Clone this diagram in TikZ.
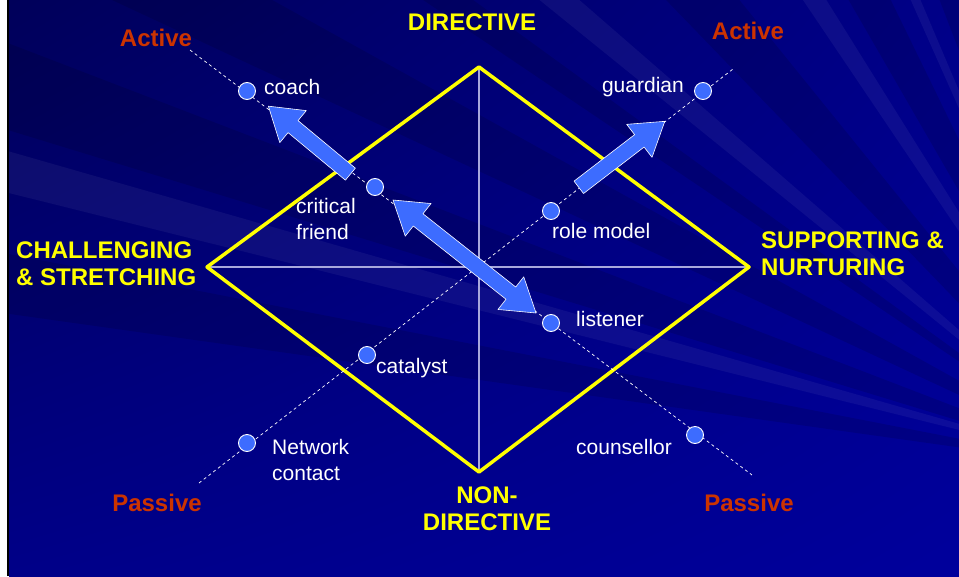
\documentclass[tikz,border=0pt]{standalone}
\usepackage{fontspec}
\setmainfont{Liberation Sans}
\usetikzlibrary{calc,shapes.arrows,shadings}

\definecolor{bgdark}{HTML}{00005A}
\definecolor{bgmid}{HTML}{000088}
\definecolor{bgblue}{HTML}{00009C}
\definecolor{axisyellow}{HTML}{FFFF00}
\definecolor{polered}{HTML}{CC3300}
\definecolor{roleblue}{HTML}{3D6CFF}
\definecolor{splitline}{HTML}{A8A8DC}

\tikzset{
  roledot/.style={circle, fill=roleblue, draw=white, line width=0.9pt, minimum size=17pt, inner sep=0pt},
  rolelabel/.style={text=white, font=\fontsize{21}{26}\selectfont, align=left, inner sep=0pt},
  axislabel/.style={text=axisyellow, font=\fontsize{24}{27}\selectfont\bfseries, inner sep=0pt},
  polelabel/.style={text=polered, font=\fontsize{24}{27}\selectfont\bfseries, inner sep=0pt},
  trail/.style={white, line width=0.7pt, dash pattern=on 3pt off 3pt},
  push/.style={single arrow, fill=roleblue, draw=white, line width=0.6pt, inner sep=7.5pt,
    single arrow head extend=13pt, single arrow tip angle=66},
  pushpull/.style={double arrow, fill=roleblue, draw=white, line width=0.6pt, inner sep=7.5pt,
    double arrow head extend=13pt, double arrow tip angle=66},
}

% block arrow node laid between two named points
\newcommand\arrowbetween[4]{%
  \path let \p1=($(#4)-(#3)$), \n1={atan2(\y1,\x1)}, \n2={veclen(\x1,\y1)} in
    node[#2, rotate=\n1, minimum height=\n2] (#1) at ($(#3)!0.5!(#4)$) {};}

\begin{document}
\begin{tikzpicture}[x=1pt,y=-1pt,line join=round]
\useasboundingbox (0,0) rectangle (959,576);

% backdrop
\fill[white] (0,0) rectangle (959,576);
\fill[black] (7,0) rectangle (9,576);
\begin{scope}
\clip (9,0) rectangle (959,576);
\shade[upper left=bgdark, upper right=bgmid, lower left=bgmid, lower right=bgblue] (9,0) rectangle (959,576);
\foreach \a/\b in {188/191,197/201,205/209,214/216,226/231,240/244,249/252}
  {\fill[black, opacity=0.12] (1120,470) -- +(\a:1600) -- +(\b:1600) -- cycle;}
\foreach \a/\b in {194/196,219/221,236/238,246/247}
  {\fill[white, opacity=0.05] (1120,470) -- +(\a:1600) -- +(\b:1600) -- cycle;}
\end{scope}

% diamond and its quarters
\coordinate (dirN) at (479,67);
\coordinate (supE) at (749,267);
\coordinate (nondirS) at (479,472);
\coordinate (chalW) at (207,267);
\draw[splitline, line width=1.2pt] (dirN) -- (nondirS) (chalW) -- (supE);
\draw[axisyellow, line width=3.5pt] (dirN) -- (supE) -- (nondirS) -- (chalW) -- cycle;

% active / passive trails
\coordinate (actL) at (190,50);
\coordinate (pasR) at (752,475);
\coordinate (pasL) at (199,483);
\coordinate (actR) at (733,69);
\draw[trail] (actL) -- (pasR);
\draw[trail] (pasL) -- (actR);

% arrows along the trails
\coordinate (upL) at (273,110);
\coordinate (upLtail) at (355,178);
\coordinate (mixA) at (393,200);
\coordinate (mixB) at (536,313);
\coordinate (upRtail) at (574,191);
\coordinate (upR) at (660,125);
\arrowbetween{toCoach}{push}{upLtail}{upL}
\arrowbetween{critListen}{pushpull}{mixA}{mixB}
\arrowbetween{toGuardian}{push}{upRtail}{upR}

% roles
\foreach \n/\x/\y in {coach/247/91,crit/375/187,listen/551/323,couns/695/435,
    guard/703/91,model/551/211,cata/367/355,net/247/443}
  {\node[roledot] (\n) at (\x,\y) {};}
\node[rolelabel, anchor=west] (coachT) at (264,87) {coach};
\node[rolelabel, anchor=north west] (critT) at (296,198) {critical\\friend};
\node[rolelabel, anchor=west] (listenT) at (576,319) {listener};
\node[rolelabel, anchor=west] (counsT) at (576,447) {counsellor};
\node[rolelabel, anchor=east] (guardT) at (684,87) {guardian};
\node[rolelabel, anchor=west] (modelT) at (552,231) {role model};
\node[rolelabel, anchor=west] (cataT) at (376,368) {catalyst};
\node[rolelabel, anchor=north west] (netT) at (272,439) {Network\\contact};

% axes
\node[axislabel] (dirT) at (472,22) {DIRECTIVE};
\node[axislabel, align=center] (nondirT) at (487,509) {NON-\\DIRECTIVE};
\node[axislabel, align=left, anchor=west] (chalT) at (16,264) {CHALLENGING\\\& STRETCHING};
\node[axislabel, align=left, anchor=west] (supT) at (761,254) {SUPPORTING \&\\NURTURING};

% poles
\node[polelabel] (actLT) at (156,38) {Active};
\node[polelabel] (actRT) at (748,31) {Active};
\node[polelabel] (pasLT) at (157,503) {Passive};
\node[polelabel] (pasRT) at (749,503) {Passive};
\end{tikzpicture}
\end{document}
